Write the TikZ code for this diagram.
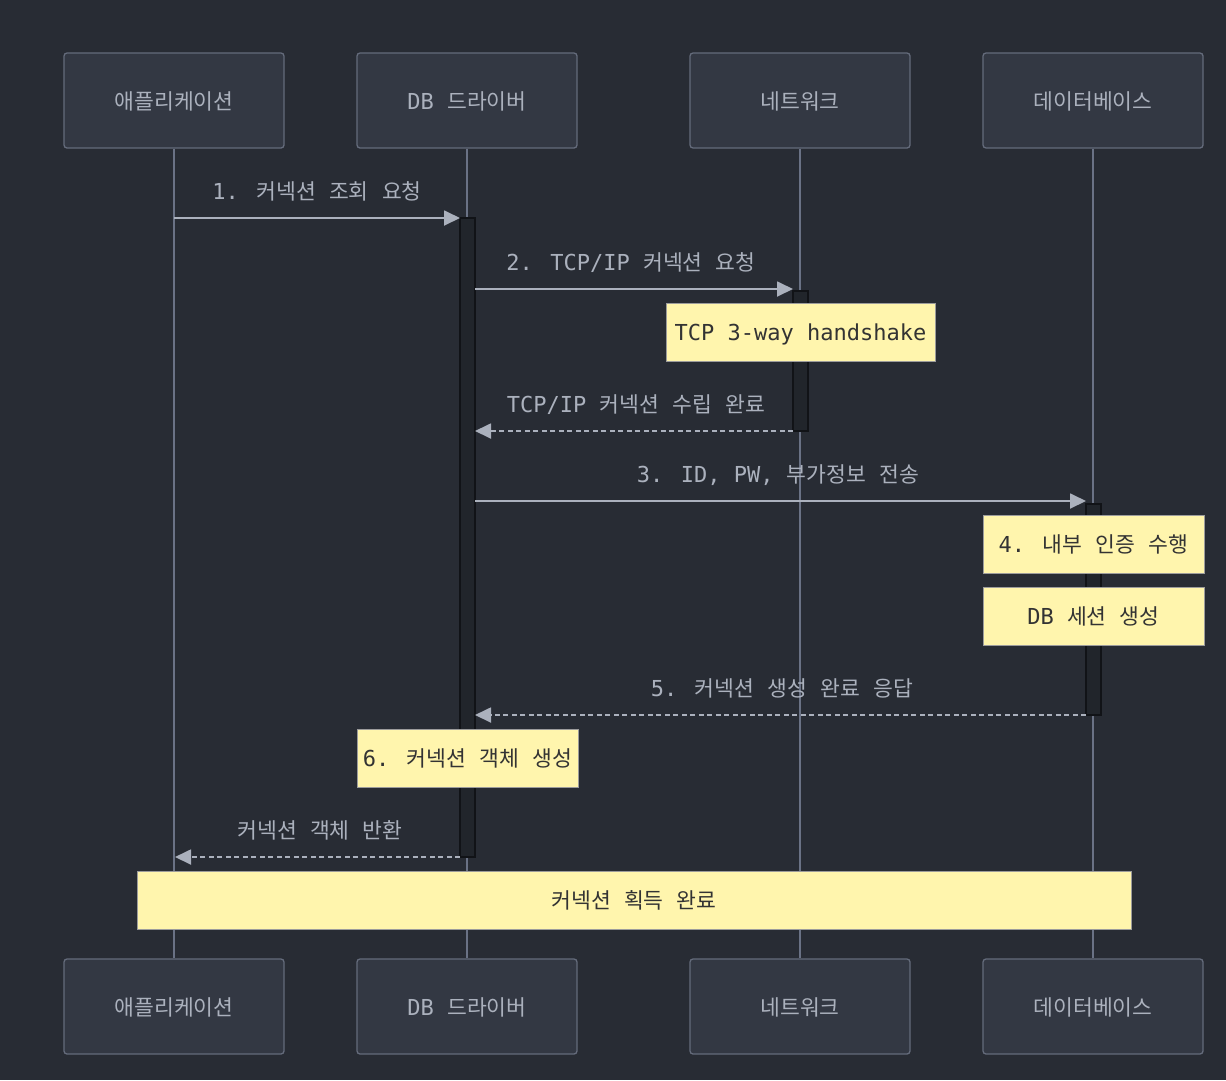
\documentclass[tikz,border=0pt]{standalone}
\usepackage{fontspec}
\setmainfont{DejaVu Sans Mono}
\newfontfamily\krfont{Noto Sans CJK KR}[Scale=0.98]
\newcommand\K[1]{{\krfont #1}}
\usetikzlibrary{arrows.meta}
\definecolor{bg}{HTML}{282C34}
\definecolor{actorfill}{HTML}{333843}
\definecolor{actorline}{HTML}{646B7B}
\definecolor{lifec}{HTML}{6A7285}
\definecolor{txt}{HTML}{ABB1BD}
\definecolor{actfill}{HTML}{21252B}
\definecolor{actline}{HTML}{111317}
\definecolor{notefill}{HTML}{FFF5AD}
\definecolor{notebd}{HTML}{9C9C9C}
\definecolor{notetxt}{HTML}{333333}
\begin{document}
\begin{tikzpicture}[x=1pt,y=-1pt,
  every node/.style={text height=17pt,text depth=0pt,inner sep=0pt},
  actor/.style={draw=actorline,fill=actorfill,rounded corners=3pt,minimum width=220pt,minimum height=95pt,text=txt,font=\fontsize{22}{26}\selectfont,line width=1.3pt},
  life/.style={draw=lifec,line width=2pt},
  actbox/.style={draw=actline,fill=actfill,minimum width=15pt,line width=1.2pt},
  msg/.style={draw=txt,line width=1.8pt,-{Triangle[length=16pt,width=15pt,fill=txt]}},
  ret/.style={msg,dash pattern=on 5pt off 3.5pt},
  lbl/.style={text=txt,font=\fontsize{22}{26}\selectfont,anchor=base},
  note/.style={draw=notebd,fill=notefill,text=notetxt,font=\fontsize{22}{26}\selectfont,minimum height=58pt,line width=1pt}
]
\fill[bg] (0,0) rectangle (1226,1080);
\useasboundingbox (0,0) rectangle (1226,1080);

% actors top
\node[actor] (a1) at (174,100.5) {\K{애플리케이션}};
\node[actor] (a2) at (467,100.5) {DB \K{드라이버}};
\node[actor] (a3) at (800,100.5) {\K{네트워크}};
\node[actor] (a4) at (1093,100.5) {\K{데이터베이스}};
% actors bottom
\node[actor] (b1) at (174,1006.5) {\K{애플리케이션}};
\node[actor] (b2) at (467,1006.5) {DB \K{드라이버}};
\node[actor] (b3) at (800,1006.5) {\K{네트워크}};
\node[actor] (b4) at (1093,1006.5) {\K{데이터베이스}};

% lifelines
\draw[life] (a1.south) -- (b1.north);
\draw[life] (a2.south) -- (b2.north);
\draw[life] (a3.south) -- (b3.north);
\draw[life] (a4.south) -- (b4.north);

% activations
\node[actbox,minimum height=639pt] (act2) at (467.5,537.5) {};
\node[actbox,minimum height=140pt] (act3) at (800.5,361) {};
\node[actbox,minimum height=211pt] (act4) at (1093.5,609.5) {};

% message endpoints
\coordinate (m1s) at (174,218);   \coordinate (m1e) at (460,218);
\coordinate (m2s) at (475,289);   \coordinate (m2e) at (793,289);
\coordinate (r2s) at (793,431);   \coordinate (r2e) at (475,431);
\coordinate (m3s) at (475,501);   \coordinate (m3e) at (1086,501);
\coordinate (m5s) at (1086,715);  \coordinate (m5e) at (475,715);
\coordinate (r6s) at (460,857);   \coordinate (r6e) at (175,857);

\draw[msg] (m1s) -- (m1e);
\draw[msg] (m2s) -- (m2e);
\draw[ret] (r2s) -- (r2e);
\draw[msg] (m3s) -- (m3e);
\draw[ret] (m5s) -- (m5e);
\draw[ret] (r6s) -- (r6e);

% message labels
\node[lbl] (l1) at (317,199) {1. \K{커넥션} \K{조회} \K{요청}};
\node[lbl] (l2) at (631,270) {2. TCP/IP \K{커넥션} \K{요청}};
\node[lbl] (l3) at (636,412) {TCP/IP \K{커넥션} \K{수립} \K{완료}};
\node[lbl] (l4) at (778,482) {3. ID, PW, \K{부가정보} \K{전송}};
\node[lbl] (l5) at (782,696) {5. \K{커넥션} \K{생성} \K{완료} \K{응답}};
\node[lbl] (l6) at (320,838) {\K{커넥션} \K{객체} \K{반환}};

% notes
\node[note,minimum width=269pt] (n1) at (800.5,332) {TCP 3-way handshake};
\node[note,minimum width=221pt] (n2) at (1093.5,544) {4. \K{내부} \K{인증} \K{수행}};
\node[note,minimum width=221pt] (n3) at (1093.5,616) {DB \K{세션} \K{생성}};
\node[note,minimum width=221pt] (n4) at (467.5,758) {6. \K{커넥션} \K{객체} \K{생성}};
\node[note,minimum width=994pt] (n5) at (634,900) {\K{커넥션} \K{획득} \K{완료}};
\end{tikzpicture}
\end{document}
